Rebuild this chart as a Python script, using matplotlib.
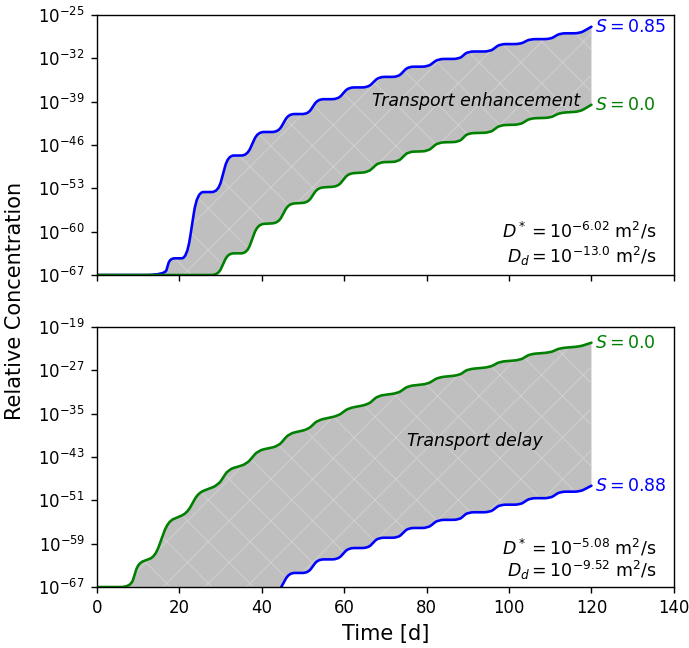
import numpy as np
import matplotlib
matplotlib.use("Agg")
import matplotlib.pyplot as plt
from matplotlib.path import Path
from matplotlib.patches import PathPatch
from matplotlib.ticker import FixedLocator, FuncFormatter

plt.rcParams['hatch.linewidth'] = 0.5

# upper panel: transport enhancement (log10 of relative concentration)
t_top = [0, 16.5, 17.7, 21.8, 24.3, 29.4, 31.8, 36.4, 39.0, 44.0, 46.5, 51.2, 53.6,
         58.5, 61.0, 65.8, 68.4, 73.1, 75.5, 80.3, 82.8, 87.9, 90.0, 95.4, 97.8,
         102.7, 105.1, 110.0, 112.4, 117.2, 120]
top_s085 = [-67, -67, -64.3, -64.3, -53.6, -53.6, -47.7, -47.7, -43.9, -43.9, -41.0,
            -41.0, -38.6, -38.6, -36.7, -36.7, -35.0, -35.0, -33.35, -33.35, -32.1,
            -32.1, -30.9, -30.9, -29.7, -29.7, -28.9, -28.9, -27.96, -27.96, -26.9]
top_s0 = [-67, -67, -67, -67, -67, -67, -63.5, -63.5, -58.8, -58.6, -55.5, -55.3,
          -52.9, -52.7, -50.6, -50.4, -48.8, -48.7, -47.1, -47.0, -45.6, -45.5,
          -44.1, -44.0, -42.8, -42.7, -41.7, -41.6, -40.8, -40.6, -39.5]

# lower panel: transport delay
t_bot = [0, 8.2, 10.0, 14.1, 17.2, 21.8, 24.6, 29.4, 31.9, 36.3, 39.1, 44.0, 46.6,
         51.2, 53.6, 58.5, 61.0, 65.8, 68.2, 73.1, 75.5, 80.3, 82.8, 87.9, 90.0,
         95.4, 97.8, 102.7, 105.1, 110.0, 112.4, 117.2, 120]
bot_s0 = [-67, -67, -62.6, -61.4, -54.9, -53.4, -49.6, -48.2, -45.3, -44.3, -41.8,
          -41.0, -38.7, -37.9, -36.2, -35.4, -34.0, -33.3, -31.7, -31.2, -29.9,
          -29.5, -28.3, -27.9, -26.8, -26.4, -25.4, -25.1, -24.0, -23.7, -22.9,
          -22.6, -21.9]
bot_s088 = [-80, -80, -80, -80, -80, -80, -80, -80, -80, -80, -80, -68, -64.4,
            -64.4, -61.9, -61.9, -59.8, -59.8, -57.9, -57.9, -56.1, -56.1, -54.6,
            -54.6, -53.2, -53.2, -51.8, -51.8, -50.6, -50.6, -49.4, -49.4, -48.3]

top_ticks = list(range(-67, -24, 7))
bot_ticks = list(range(-67, -18, 8))

fig = plt.figure(figsize=(689 / 125, 648 / 125), dpi=125)
ax1 = fig.add_axes([0.1408, 0.5756, 0.8372, 0.4013])
ax2 = fig.add_axes([0.1408, 0.0941, 0.8372, 0.4013], sharex=ax1)

sci = FuncFormatter(lambda v, p: r'$10^{%d}$' % round(np.log10(v)))


def rounded(t, logc, frac=0.3):
    # polyline with the corners softened by quadratic bezier pieces
    pts = np.column_stack([t, logc]).astype(float)
    verts, codes = [pts[0]], [Path.MOVETO]
    for i in range(1, len(pts) - 1):
        a = pts[i] + (pts[i - 1] - pts[i]) * frac
        b = pts[i] + (pts[i + 1] - pts[i]) * frac
        verts += [a, pts[i], b]
        codes += [Path.LINETO, Path.CURVE3, Path.CURVE3]
    verts.append(pts[-1])
    codes.append(Path.LINETO)
    verts = np.array(verts)
    verts[:, 1] = 10.0 ** verts[:, 1]
    return verts, codes


def panel(ax, t, upper, lower, c_up, c_lo, lab_up, lab_lo, ticks):
    v_up, c_up_codes = rounded(t, upper)
    v_lo, c_lo_codes = rounded(t[::-1], lower[::-1])
    c_lo_codes = [Path.LINETO] + c_lo_codes[1:]
    band = Path(np.vstack([v_up, v_lo, v_up[:1]]),
                c_up_codes + c_lo_codes + [Path.CLOSEPOLY])
    ax.add_patch(PathPatch(band, facecolor='#bfbfbf', edgecolor='#d2d2d2',
                           hatch='x', linewidth=0))
    for verts, codes, col in [(v_up, c_up_codes, c_up),
                              (*rounded(t, lower), c_lo)]:
        ax.add_patch(PathPatch(Path(verts, codes), fill=False, edgecolor=col,
                               lw=1.5, capstyle='round', joinstyle='round'))
    ax.annotate(lab_up, (t[-1], 10.0 ** upper[-1]), xytext=(2, 0),
                textcoords='offset points', color=c_up, va='center', ha='left',
                fontsize=10)
    ax.annotate(lab_lo, (t[-1], 10.0 ** lower[-1]), xytext=(2, 0),
                textcoords='offset points', color=c_lo, va='center', ha='left',
                fontsize=10)
    ax.set_yscale('log')
    ax.set_ylim(10.0 ** ticks[0], 10.0 ** ticks[-1])
    ax.yaxis.set_major_locator(FixedLocator([10.0 ** k for k in ticks]))
    ax.yaxis.set_minor_locator(FixedLocator([]))
    ax.yaxis.set_major_formatter(sci)
    ax.tick_params(labelsize=9.5)


panel(ax1, t_top, top_s085, top_s0, 'blue', 'green',
      r'$S = 0.85$', r'$S = 0.0$', top_ticks)
panel(ax2, t_bot, bot_s0, bot_s088, 'green', 'blue',
      r'$S = 0.0$', r'$S = 0.88$', bot_ticks)

ax1.text(92, 10.0 ** -38.9, 'Transport enhancement', style='italic',
         ha='center', va='center', fontsize=10)
ax2.text(91.7, 10.0 ** -40.0, 'Transport delay', style='italic',
         ha='center', va='center', fontsize=10)

ax1.text(0.97, 0.169, r'$D^* = 10^{-6.02}$ m$^2$/s', transform=ax1.transAxes,
         ha='right', va='center', fontsize=10)
ax1.text(0.97, 0.073, r'$D_d = 10^{-13.0}$ m$^2$/s', transform=ax1.transAxes,
         ha='right', va='center', fontsize=10)
ax2.text(0.97, 0.15, r'$D^* = 10^{-5.08}$ m$^2$/s', transform=ax2.transAxes,
         ha='right', va='center', fontsize=10)
ax2.text(0.97, 0.065, r'$D_d = 10^{-9.52}$ m$^2$/s', transform=ax2.transAxes,
         ha='right', va='center', fontsize=10)

ax1.set_xlim(0, 140)
ax1.xaxis.set_major_locator(FixedLocator(range(0, 141, 20)))
ax1.tick_params(labelbottom=False)
ax2.set_xlabel('Time [d]', fontsize=12)
fig.text(0.022, 0.535, 'Relative Concentration', rotation=90,
         ha='center', va='center', fontsize=12)

fig.savefig('out.png', dpi=125)
